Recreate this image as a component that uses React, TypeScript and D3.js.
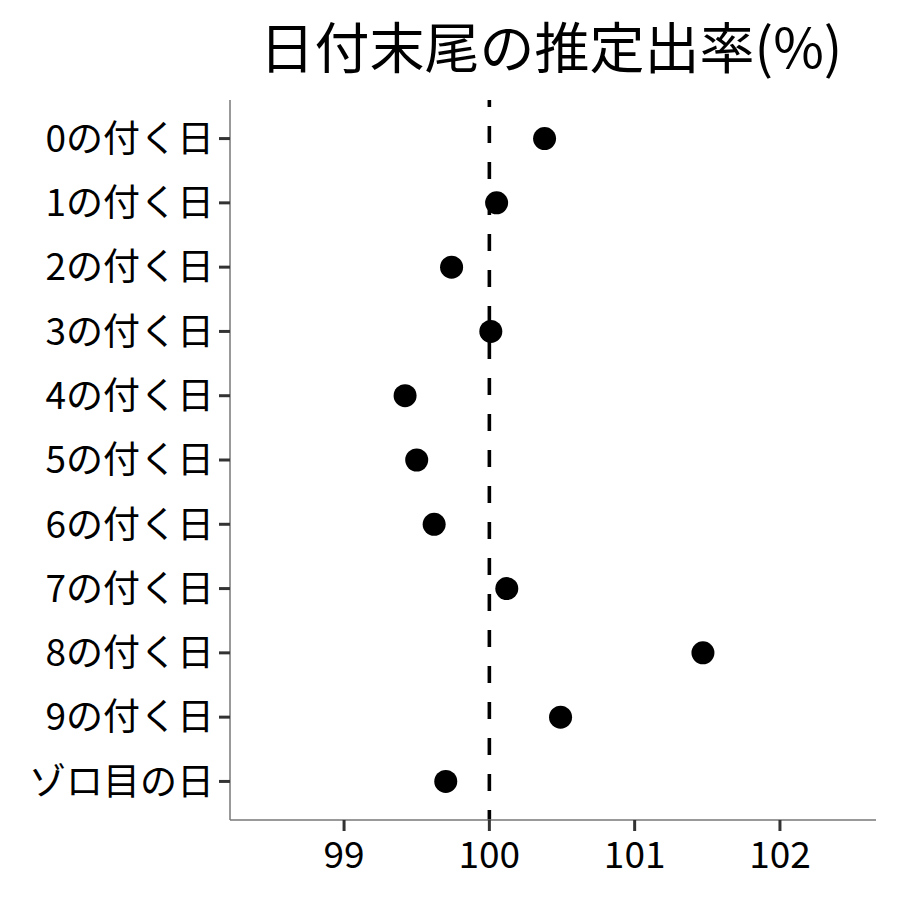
import React from 'react'
import * as d3 from 'd3'

const categories = [
  '0の付く日', '1の付く日', '2の付く日', '3の付く日', '4の付く日',
  '5の付く日', '6の付く日', '7の付く日', '8の付く日', '9の付く日', 'ゾロ目の日'
]
const rates = [100.38, 100.05, 99.74, 100.01, 99.42, 99.5, 99.62, 100.12, 101.47, 100.49, 99.7]
const xTicks = [99, 100, 101, 102]
const title = '日付末尾の推定出率(%)'

const font = '"Noto Sans CJK JP", "Noto Sans", sans-serif'

function App() {
  const width = 900
  const height = 900
  const left = 230
  const right = 876
  const top = 100
  const bottom = 820

  // scales
  const x = d3.scaleLinear().domain([98.215, 102.661]).range([left, right])
  const y = d3.scalePoint<string>().domain(categories).range([top, bottom]).padding(0.6)

  return (
    <svg width={width} height={height} style={{ position: 'absolute', left: 0, top: 0 }}>
      <rect width={width} height={height} fill="#fff" />
      <text x={(left + right) / 2 - 2} y={68} textAnchor="middle" fontFamily={font} fontSize={55} fill="#000">
        {title}
      </text>

      {/* reference line */}
      <line x1={x(100)} x2={x(100)} y1={top} y2={bottom} stroke="#000" strokeWidth={3.6}
        strokeDasharray="17,19" strokeDashoffset={10} />

      {/* axes */}
      <line x1={left} x2={left} y1={top} y2={bottom} stroke="#777" strokeWidth={1.5} />
      <line x1={left} x2={right} y1={bottom} y2={bottom} stroke="#777" strokeWidth={1.5} />

      {categories.map(c => (
        <g key={c}>
          <line x1={left - 11} x2={left} y1={y(c)} y2={y(c)} stroke="#333" strokeWidth={3} />
          <text x={left - 16} y={y(c)} dy="0.36em" textAnchor="end" fontFamily={font} fontSize={37} fill="#000">
            {c}
          </text>
        </g>
      ))}

      {xTicks.map(t => (
        <g key={t}>
          <line x1={x(t)} x2={x(t)} y1={bottom} y2={bottom + 11} stroke="#333" strokeWidth={3} />
          <text x={x(t)} y={868} textAnchor="middle" fontFamily={font} fontSize={37} fill="#000">
            {t}
          </text>
        </g>
      ))}

      {/* points */}
      {rates.map((v, i) => (
        <circle key={i} cx={x(v)} cy={y(categories[i])} r={11.5} fill="#000" />
      ))}
    </svg>
  )
}

export default App
